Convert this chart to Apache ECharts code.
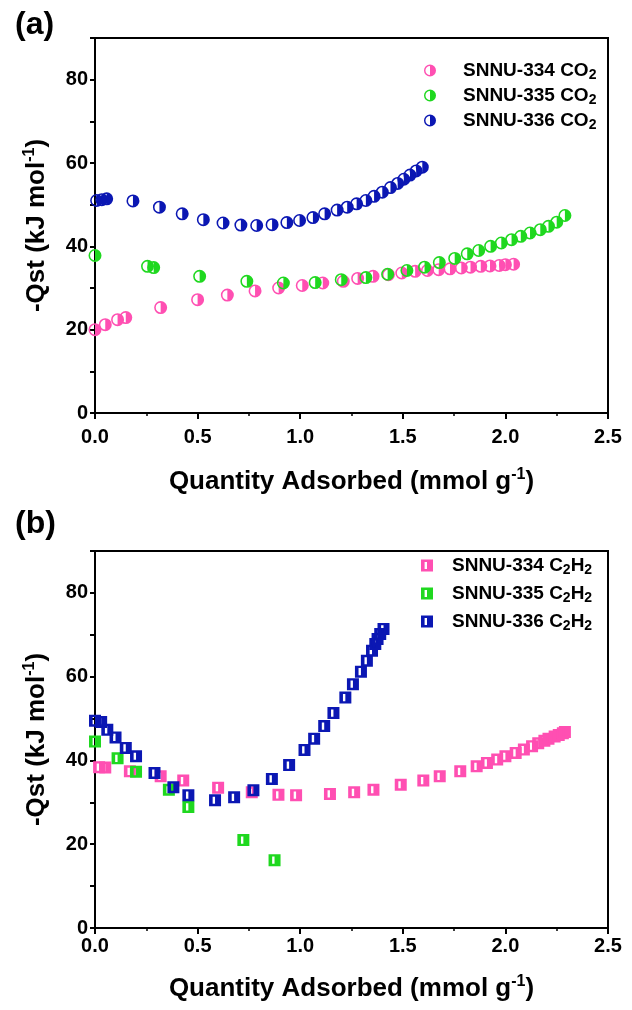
<!DOCTYPE html>
<html>
<head>
<meta charset="utf-8">
<script src="https://cdn.jsdelivr.net/npm/echarts@6/dist/echarts.min.js"></script>
<style>
  html, body { margin: 0; padding: 0; background: #fff; }
  #chart { width: 632px; height: 1010px; }
</style>
</head>
<body>
<div id="chart"></div>
<script>
// (a) CO2 isosteric heat, [quantity, -Qst]
const co2Snnu334 = [[0.0,20.0],[0.05,21.2],[0.11,22.4],[0.15,22.9],[0.32,25.3],[0.5,27.2],[0.645,28.3],[0.78,29.3],[0.895,30.0],[1.01,30.6],[1.11,31.2],[1.21,31.6],[1.28,32.3],[1.355,32.8],[1.43,33.2],[1.495,33.6],[1.56,34.0],[1.62,34.2],[1.675,34.4],[1.73,34.6],[1.785,34.8],[1.83,35.0],[1.88,35.2],[1.925,35.3],[1.97,35.4],[2.0,35.6],[2.04,35.7]];
const co2Snnu335 = [[0.0,37.8],[0.256,35.2],[0.286,34.9],[0.51,32.8],[0.74,31.6],[0.918,31.2],[1.073,31.3],[1.2,32.0],[1.32,32.5],[1.426,33.3],[1.52,34.2],[1.606,35.0],[1.678,36.1],[1.753,37.1],[1.814,38.2],[1.87,39.0],[1.928,40.0],[1.98,40.8],[2.03,41.6],[2.075,42.4],[2.12,43.2],[2.17,44.0],[2.21,44.8],[2.25,45.8],[2.29,47.4]];
const co2Snnu336 = [[0.008,51.0],[0.033,51.2],[0.057,51.4],[0.185,50.9],[0.314,49.4],[0.425,47.8],[0.528,46.4],[0.624,45.6],[0.711,45.1],[0.788,45.0],[0.863,45.2],[0.935,45.7],[0.997,46.2],[1.062,46.9],[1.119,47.8],[1.18,48.7],[1.229,49.4],[1.275,50.2],[1.32,51.0],[1.36,52.0],[1.40,53.0],[1.44,54.1],[1.475,55.1],[1.505,56.1],[1.535,57.1],[1.565,58.1],[1.595,59.0]];

// (b) C2H2 isosteric heat
const c2h2Snnu334 = [[0.02,38.4],[0.05,38.3],[0.17,37.4],[0.32,36.2],[0.43,35.2],[0.6,33.5],[0.764,32.4],[0.894,31.8],[0.98,31.7],[1.145,32.0],[1.263,32.4],[1.357,33.0],[1.49,34.2],[1.6,35.2],[1.68,36.2],[1.78,37.4],[1.86,38.6],[1.91,39.4],[1.96,40.2],[2.0,41.0],[2.05,41.8],[2.09,42.6],[2.13,43.4],[2.16,44.1],[2.19,44.7],[2.21,45.2],[2.24,45.7],[2.26,46.1],[2.28,46.5],[2.29,46.8]];
const c2h2Snnu335 = [[0.0,44.5],[0.11,40.5],[0.2,37.3],[0.36,33.0],[0.455,28.9],[0.723,21.0],[0.875,16.2]];
const c2h2Snnu336 = [[0.0,49.5],[0.03,49.2],[0.06,47.3],[0.1,45.5],[0.15,43.0],[0.2,41.0],[0.29,37.0],[0.382,33.6],[0.455,31.7],[0.585,30.5],[0.678,31.2],[0.772,32.9],[0.862,35.6],[0.946,38.9],[1.021,42.5],[1.068,45.2],[1.117,48.2],[1.162,51.3],[1.22,55.0],[1.257,58.2],[1.296,61.2],[1.325,63.8],[1.35,66.2],[1.366,67.8],[1.377,69.0],[1.39,70.2],[1.406,71.4]];

const xTicks = [0, 2.5, 0.5];   // min, max, interval
const yTicks = [0, 90, 10];

const PINK = '#ff4fb2';
const GREEN = '#1fd81f';
const BLUE = '#0b17b3';

// half-filled circle and square with a white slot
const halfCircle = 'path://M10,0A10,10,0,1,1,10,20A10,10,0,1,1,10,0ZM10,17.6L10,2.4A7.6,7.6,0,0,0,10,17.6Z';
const slotSquare = 'path://M0,0H20V20H0ZM6,4V16H10V4Z';

const FONT = 'Arial, "Liberation Sans", sans-serif';

const chart = echarts.init(document.getElementById('chart'));

const supStyle = { fontFamily: FONT, fontWeight: 'bold', fontSize: 16, color: '#000', verticalAlign: 'top', padding: [0, 0, 13, 0] };

function xAxisFor(gridIndex, gap, margin) {
  return {
    type: 'value', gridIndex: gridIndex,
    min: xTicks[0], max: xTicks[1], interval: xTicks[2],
    name: 'Quantity Adsorbed (mmol g{sup|-1})',
    nameLocation: 'middle', nameGap: gap,
    nameTextStyle: { fontFamily: FONT, fontWeight: 'bold', fontSize: 26, color: '#000', rich: { sup: supStyle } },
    axisLine: { show: true, onZero: false, lineStyle: { color: '#000', width: 2 } },
    axisTick: { show: true, length: 6, lineStyle: { color: '#000', width: 2 } },
    minorTick: { show: true, splitNumber: 2, length: 3, lineStyle: { color: '#000', width: 1.5 } },
    splitLine: { show: false },
    axisLabel: { fontFamily: FONT, fontWeight: 'bold', fontSize: 20, color: '#000', margin: margin,
      formatter: v => v.toFixed(1) }
  };
}

function yAxisFor(gridIndex) {
  return {
    type: 'value', gridIndex: gridIndex,
    min: yTicks[0], max: yTicks[1], interval: yTicks[2],
    name: '-Qst (kJ mol{sup|-1})',
    nameLocation: 'middle', nameGap: 44,
    nameTextStyle: { fontFamily: FONT, fontWeight: 'bold', fontSize: 26, color: '#000', rich: { sup: supStyle } },
    axisLine: { show: true, onZero: false, lineStyle: { color: '#000', width: 2 } },
    axisTick: { show: true, length: 5, lineStyle: { color: '#000', width: 2 } },
    splitLine: { show: false },
    axisLabel: { fontFamily: FONT, fontWeight: 'bold', fontSize: 20, color: '#000', margin: 7,
      formatter: v => (v % 20 === 0 && v <= 80) ? String(v) : '' }
  };
}

function legendFor(names, top, left, spacer, gap) {
  return {
    data: names, orient: 'vertical', top: top, left: left,
    itemWidth: 12, itemHeight: 12, itemGap: gap,
    textStyle: {
      fontFamily: FONT, fontWeight: 'bold', fontSize: 19, color: '#000',
      rich: {
        g: { width: spacer },
        s: { fontFamily: FONT, fontWeight: 'bold', fontSize: 14, color: '#000', verticalAlign: 'bottom', padding: [9, 0, 0, 0] }
      }
    },
    formatter: name => '{g|}' + name.replace(/ CO2$/, ' CO{s|2}').replace(/ C2H2$/, ' C{s|2}H{s|2}')
  };
}

function scatter(name, data, symbol, size, color, idx) {
  return {
    name: name, type: 'scatter', xAxisIndex: idx, yAxisIndex: idx,
    data: data, symbol: symbol, symbolSize: size,
    itemStyle: { color: color, opacity: 1 },
    emphasis: { disabled: true }
  };
}

const options = {
  animation: false,
  backgroundColor: '#fff',
  title: [
    { text: '(a)', left: 10, top: 4, textStyle: { fontFamily: FONT, fontWeight: 'bold', fontSize: 32, color: '#000' } },
    { text: '(b)', left: 10, top: 503, textStyle: { fontFamily: FONT, fontWeight: 'bold', fontSize: 32, color: '#000' } }
  ],
  grid: [
    { left: 95, top: 38, width: 513, height: 375, show: true, borderColor: '#000', borderWidth: 2, backgroundColor: 'transparent' },
    { left: 95, top: 551, width: 513, height: 377, show: true, borderColor: '#000', borderWidth: 2, backgroundColor: 'transparent' }
  ],
  legend: [
    Object.assign(legendFor(['SNNU-334 CO2', 'SNNU-335 CO2', 'SNNU-336 CO2'], 56, 419, 22, 4), { icon: halfCircle }),
    Object.assign(legendFor(['SNNU-334 C2H2', 'SNNU-335 C2H2', 'SNNU-336 C2H2'], 551, 416, 14, 7), { icon: slotSquare })
  ],
  xAxis: [xAxisFor(0, 54, 14), xAxisFor(1, 46, 8)],
  yAxis: [yAxisFor(0), yAxisFor(1)],
  series: [
    scatter('SNNU-334 CO2', co2Snnu334, halfCircle, 13, PINK, 0),
    scatter('SNNU-335 CO2', co2Snnu335, halfCircle, 13, GREEN, 0),
    scatter('SNNU-336 CO2', co2Snnu336, halfCircle, 13, BLUE, 0),
    scatter('SNNU-334 C2H2', c2h2Snnu334, slotSquare, 12, PINK, 1),
    scatter('SNNU-335 C2H2', c2h2Snnu335, slotSquare, 12, GREEN, 1),
    scatter('SNNU-336 C2H2', c2h2Snnu336, slotSquare, 12, BLUE, 1)
  ]
};

chart.setOption(options);
</script>
</body>
</html>
